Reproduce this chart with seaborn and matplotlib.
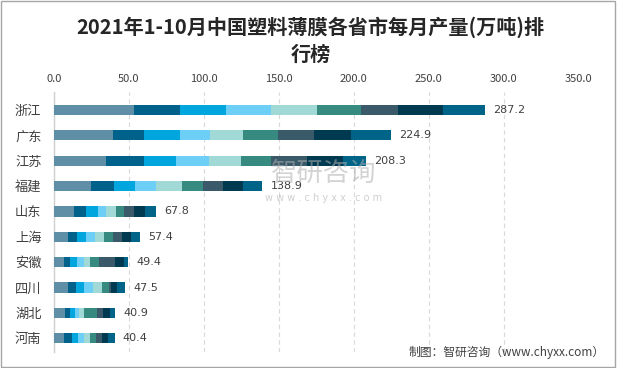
import matplotlib
matplotlib.use("Agg")
import matplotlib.pyplot as plt
import seaborn as sns
import pandas as pd
import numpy as np
from matplotlib.patches import Rectangle

provinces = ["浙江", "广东", "江苏", "福建", "山东", "上海", "安徽", "四川", "湖北", "河南"]
months = ["1-2月", "3月", "4月", "5月", "6月", "7月", "8月", "9月", "10月"]
totals = [287.2, 224.9, 208.3, 138.9, 67.8, 57.4, 49.4, 47.5, 40.9, 40.4]

# monthly output per province (万吨), columns = months
zhejiang = [53.3, 30.6, 30.6, 30.0, 30.6, 30.0, 24.6, 30.0, 27.5]
guangdong = [39.3, 20.7, 24.0, 20.0, 22.0, 23.3, 24.0, 24.7, 26.9]
jiangsu = [34.7, 25.3, 21.3, 22.0, 21.4, 20.0, 24.0, 24.0, 15.6]
fujian = [24.7, 15.3, 14.0, 14.0, 17.3, 14.0, 13.4, 13.3, 12.9]
shandong = [13.3, 8.0, 8.0, 5.4, 6.6, 5.4, 6.6, 7.4, 7.1]
shanghai = [9.3, 6.0, 6.0, 6.0, 6.0, 6.0, 6.0, 6.0, 6.1]
anhui = [6.6, 4.0, 4.7, 4.7, 4.0, 6.0, 10.7, 6.0, 2.7]
sichuan = [9.6, 5.3, 5.3, 6.0, 6.0, 4.7, 1.3, 4.0, 5.3]
hubei = [7.4, 3.4, 3.2, 2.8, 3.3, 8.8, 3.8, 4.6, 3.6]
henan = [7.0, 4.7, 4.0, 4.6, 4.0, 4.0, 4.0, 4.0, 4.1]

colors = ["#5f8fa7", "#00628a", "#00a6dd", "#6dcff6", "#a1d9d6",
          "#368a80", "#3a5a69", "#003a50", "#006489"]

data = np.array([zhejiang, guangdong, jiangsu, fujian, shandong,
                 shanghai, anhui, sichuan, hubei, henan])
df = pd.DataFrame(data, index=provinces, columns=months)
cum = df.cumsum(axis=1)

sns.set_theme(style="white")
plt.rcParams['font.family'] = ['Noto Sans CJK SC', 'DejaVu Sans']

fig = plt.figure(figsize=(6.17, 3.68), dpi=100)
ax = fig.add_axes([0.0875, 0.043, 0.8505, 0.707])

for i in range(len(months) - 1, -1, -1):
    d = pd.DataFrame({"prov": provinces, "val": cum.iloc[:, i].values})
    sns.barplot(data=d, x="val", y="prov", orient="h", color=colors[i],
                width=0.4, ax=ax, saturation=1, zorder=3, linewidth=0,
                edgecolor="none")

for j, t in enumerate(totals):
    ax.text(cum.iloc[j, -1] + 5.5, j, f"{t:.1f}", va="center", ha="left",
            fontsize=8, color="#404040", family=['DejaVu Sans'], zorder=4)

ax.set_xlim(0, 350)
ax.set_ylim(9.55, -0.71)
ax.set_xticks(np.arange(0, 351, 50))
ax.set_xticklabels([f"{v:.1f}" for v in np.arange(0, 351, 50)])
ax.xaxis.tick_top()
ax.tick_params(axis="x", length=0, pad=6, labelsize=8, colors="#404040")
ax.tick_params(axis="y", length=0, pad=9, labelsize=9.5, colors="#404040")
ax.set_xlabel("")
ax.set_ylabel("")
ax.grid(axis="x", color="#d9d9d9", linestyle=(0, (4, 3)), linewidth=0.8, zorder=0)
ax.grid(axis="y", visible=False)
for s in ["top", "right", "bottom"]:
    ax.spines[s].set_visible(False)
ax.spines["left"].set_color("#d0d0d0")
ax.spines["left"].set_linewidth(1)

fig.text(0.503, 0.925, "2021年1-10月中国塑料薄膜各省市每月产量(万吨)排",
         ha="center", va="center", fontsize=14.5, weight="bold", color="#262626")
fig.text(0.503, 0.853, "行榜", ha="center", va="center", fontsize=14.5,
         weight="bold", color="#262626")

# watermark
fig.text(0.525, 0.528, "智研咨询", ha="center", va="center", fontsize=19,
         color="#b0b0b0", alpha=0.55, zorder=5)
fig.text(0.525, 0.462, "w w w . c h y x x . c o m", ha="center", va="center",
         fontsize=7, color="#b0b0b0", alpha=0.6, zorder=5, family=['DejaVu Sans'])

fig.text(0.98, 0.042, "制图：智研咨询（www.chyxx.com）", ha="right", va="center",
         fontsize=8.5, color="#404040")

fig.patches.append(Rectangle((0.002, 0.003), 0.995, 0.994, transform=fig.transFigure,
                             fill=False, edgecolor="#a6a6a6", linewidth=1))

fig.savefig("out.png", dpi=100)
